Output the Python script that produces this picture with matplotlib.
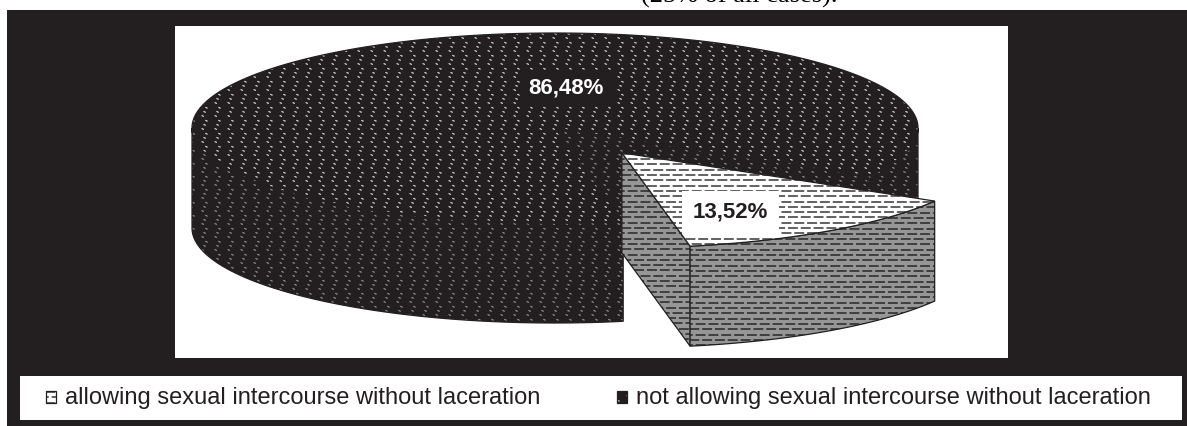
import numpy as np
import matplotlib.pyplot as plt
from matplotlib.patches import Polygon, Rectangle
from matplotlib.collections import LineCollection

# data
categories = ["allowing sexual intercourse without laceration",
              "not allowing sexual intercourse without laceration"]
shares = [13.52, 86.48]
value_labels = ["13,52%", "86,48%"]
title_tail = "(25% of all cases)."

BLACK = "#231f20"
W, H = 1187, 426

plt.rcParams["font.family"] = ["Liberation Sans", "DejaVu Sans"]
fig = plt.figure(figsize=(W / 100, H / 100), dpi=100)
fig.patch.set_facecolor("white")

# black frame behind everything
fig.add_artist(Rectangle((7 / W, 0), 1 - 7 / W, 1 - 10 / H, transform=fig.transFigure,
                         facecolor=BLACK, edgecolor="none", zorder=0))

# cut off caption line at the very top
fig.text(739 / W, 1 - 3 / H, title_tail, family="Liberation Serif", fontsize=19,
         ha="center", va="baseline", color="black")


def px_axes(x0, y0, x1, y1):
    """axes placed in figure pixels, with its own pixel-like units (y down)"""
    ax = fig.add_axes([x0 / W, 1 - y1 / H, (x1 - x0) / W, (y1 - y0) / H])
    ax.set_xlim(0, x1 - x0)
    ax.set_ylim(y1 - y0, 0)
    ax.set_xticks([])
    ax.set_yticks([])
    for s in ax.spines.values():
        s.set_visible(False)
    ax.set_facecolor("white")
    return ax


def dots(ax, patch, color, lw=1.8):
    """dotted '/' streaks, like the print pattern"""
    x0, y0 = patch.get_xy().min(axis=0)
    x1, y1 = patch.get_xy().max(axis=0)
    segs = []
    for yy in np.arange(y0 - 13, y1 + 13, 13):
        for xx in np.arange(x0 - 13, x1 + 13, 13):
            segs.append([(xx - 2.5, yy + 5.5), (xx + 2.5, yy - 5.5)])
    lc = LineCollection(segs, colors=color, linewidths=lw,
                        linestyles=[(0, (0.45, 1.35))], zorder=patch.get_zorder())
    ax.add_collection(lc)
    lc.set_clip_path(patch)


def bricks(ax, patch, color, lw=1.3):
    """rows of dashes, every other row shifted"""
    x0, y0 = patch.get_xy().min(axis=0)
    x1, y1 = patch.get_xy().max(axis=0)
    rows = np.arange(y0 + 1, y1 + 5, 5.3)
    segs = [[(x0 - 20, r), (x1 + 20, r)] for r in rows]
    styles = [(0 if i % 2 else 3.5, (5.5, 1.6)) for i in range(len(rows))]
    lc = LineCollection(segs, colors=color, linewidths=lw, linestyles=styles,
                        zorder=patch.get_zorder())
    ax.add_collection(lc)
    lc.set_clip_path(patch)


def face(ax, pts, fc, tex, texcolor, z, ec=BLACK):
    p = Polygon(pts, closed=True, facecolor=fc, edgecolor="none", zorder=z)
    ax.add_patch(p)
    tex(ax, p, texcolor)
    ax.add_patch(Polygon(pts, closed=True, facecolor="none", edgecolor=ec,
                         linewidth=0.9, zorder=z + 0.5))


ax = px_axes(175, 26, 1008, 358)

# 3d pie geometry (pixels inside the plot area)
cx, cy, rx, ry, depth = 380, 102, 363, 95, 100
start = 30.5
explode = [0.32, 0.0]

styles = [
    dict(top=("white", bricks, "#555555"), side=("#969696", bricks, "#383838")),
    dict(top=(BLACK, dots, "#e6e6e6"), side=(BLACK, dots, "#9a9a9a")),
]


def arc(a0, a1, ox, oy, dz=0.0, n=None):
    n = n or max(int(abs(a1 - a0)), 2) + 1
    t = np.radians(np.linspace(a0, a1, n))
    return np.column_stack([ox + rx * np.cos(t), oy + ry * np.sin(t) + dz])


angles = np.cumsum([0] + shares) / 100 * 360 + start
order = [1, 0]  # back slice first
z = 1
for i in order:
    a0, a1 = angles[i], angles[i + 1]
    mid = np.radians((a0 + a1) / 2)
    ox = cx + explode[i] * rx * np.cos(mid)
    oy = cy + explode[i] * ry * np.sin(mid)
    st = styles[i]
    sfc, stex, scol = st["side"]

    # cut faces facing the viewer
    for a, sgn in ((a0, -1), (a1, 1)):
        if np.sin(np.radians(a + sgn * 90)) > 0:
            r = arc(a, a, ox, oy, n=1)[0]
            pts = [(ox, oy), r, (r[0], r[1] + depth), (ox, oy + depth)]
            face(ax, pts, sfc, stex, scol, z)
            z += 1

    # front part of the outer wall
    for lo, hi in ((0, 180), (360, 540)):
        b0, b1 = max(a0, lo), min(a1, hi)
        if b1 > b0:
            up = arc(b0, b1, ox, oy)
            dn = arc(b1, b0, ox, oy, depth)
            face(ax, np.vstack([up, dn]), sfc, stex, scol, z)
            z += 1

    # top
    tfc, ttex, tcol = st["top"]
    face(ax, np.vstack([[(ox, oy)], arc(a0, a1, ox, oy)]), tfc, ttex, tcol, z)
    z += 1

# value labels
mid0 = np.radians((angles[0] + angles[1]) / 2)
ax.text(cx + explode[0] * rx * np.cos(mid0) + 0.52 * rx * np.cos(mid0),
        cy + explode[0] * ry * np.sin(mid0) + 0.52 * ry * np.sin(mid0) + 0.19 * depth,
        value_labels[0], ha="center", va="center", fontsize=16, fontweight="bold",
        color=BLACK, zorder=50,
        bbox=dict(boxstyle="square,pad=0.5", facecolor="white", edgecolor="none"))
ax.text(cx + 0.03 * rx, cy - 0.42 * ry, value_labels[1], ha="center", va="center",
        fontsize=16, fontweight="bold", color="white", zorder=50,
        bbox=dict(boxstyle="square,pad=0.35", facecolor=BLACK, edgecolor="none"))

# legend strip
lg = px_axes(20, 376, 1182, 420)
marker_x = [26, 597]
for k, (lab, mx) in enumerate(zip(categories, marker_x)):
    fc, tex, col = styles[k]["top"]
    face(lg, [(mx, 15), (mx + 10, 15), (mx + 10, 27), (mx, 27)], fc, tex, col, 2)
    lg.text(mx + 19, 22, lab, ha="left", va="center", fontsize=17, color=BLACK)

fig.savefig("out.png", dpi=100, facecolor=fig.get_facecolor())
